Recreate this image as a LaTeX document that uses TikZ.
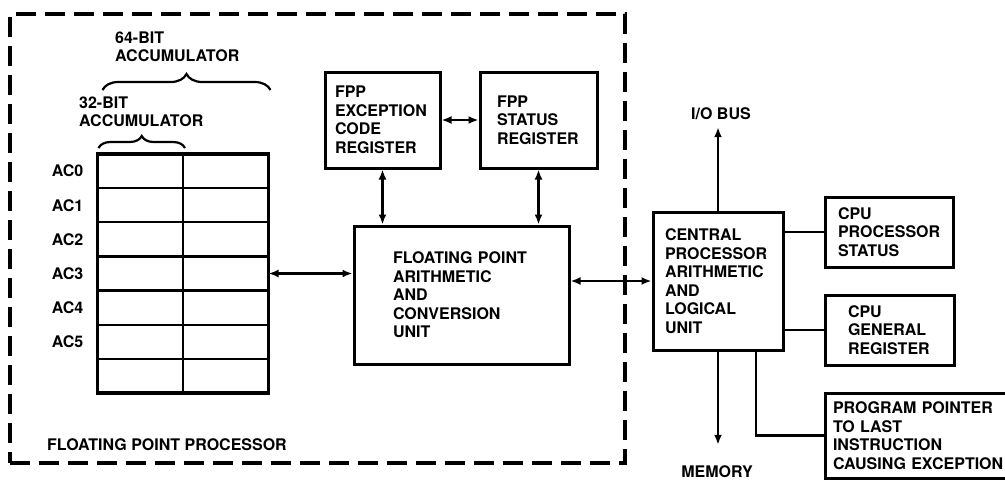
\documentclass[tikz,border=0pt]{standalone}
\usepackage{fontspec}
\setmainfont{TeX Gyre Heros}
\usetikzlibrary{positioning, arrows.meta, decorations.pathreplacing, calc}

\begin{document}
\begin{tikzpicture}[
    x=1pt, y=-1pt,
    every node/.style={font=\fontsize{16pt}{18.5pt}\selectfont\bfseries},
    unit/.style={rectangle, draw=black, line width=3pt, align=left, inner ysep=0pt},
    cell/.style={rectangle, draw=black, line width=2.2pt, minimum width=85.5pt, minimum height=34.14pt, inner sep=0pt, outer sep=0pt},
    lbl/.style={align=left, inner sep=0pt},
    frame/.style={rectangle, draw=black, line width=3.2pt, dash pattern=on 20pt off 9pt},
    link/.style={line width=2.6pt},
    both/.style={link, {Latex[length=10pt,width=8pt]}-{Latex[length=10pt,width=8pt]}},
    oneway/.style={link, -{Latex[length=10pt,width=8pt]}},
    curly/.style={line width=2.2pt, decorate, decoration={brace, amplitude=#1}}
]
    \useasboundingbox (0,0) rectangle (1005,483);

    % Floating point processor boundary
    \node[frame, minimum width=615pt, minimum height=449pt] (fppbox) at (317.5,238.5) {};
    \node[lbl, anchor=west] (fpplabel) at (47,445) {FLOATING POINT PROCESSOR};

    % Accumulators
    \foreach \i in {0,...,6} {
        \node[cell] (lo\i) at (140.25,{171.07+34.14*\i}) {};
        \node[cell, right=0pt of lo\i] (hi\i) {};
    }
    \foreach \i in {0,...,5}
        \node[lbl, left=14pt of lo\i] (ac\i) {AC\i};
    \draw[line width=3.2pt] (lo0.north west) rectangle (hi6.south east);

    \draw[curly=12pt] ($(lo0.north west)+(1,-6)$) -- ($(lo0.north east)+(2,-6)$);
    \node[lbl, anchor=west] (acc32) at (79,112) {32-BIT\\ACCUMULATOR};
    \draw[curly=16pt] ($(lo0.north west)+(5,-64)$) -- ($(hi0.north east)+(2,-64)$);
    \node[lbl, anchor=west] (acc64) at (115,47) {64-BIT\\ACCUMULATOR};

    % FPP registers and arithmetic unit
    \node[unit, minimum width=115pt, minimum height=96pt, text width=95pt, inner xsep=10pt] (fppexc) at (382.5,120) {FPP\\EXCEPTION\\CODE\\REGISTER};
    \node[unit, minimum width=117pt, minimum height=96pt, text width=83pt, inner xsep=17pt] (fppstat) at (538.5,120) {FPP\\STATUS\\REGISTER};
    \node[unit, minimum width=215pt, minimum height=138pt, text width=137pt, inner xsep=39pt] (fpau) at (461.5,295) {FLOATING POINT\\ARITHMETIC\\AND\\CONVERSION\\UNIT};

    \draw[both] (fppexc.east) -- (fppstat.west);
    \draw[both] (fppexc.south) -- (fppexc.south |- fpau.north);
    \draw[both] (fppstat.south) -- (fppstat.south |- fpau.north);
    \draw[both] (hi3.east) -- (fpau.west |- hi3.east);

    % Central processor
    \node[unit, minimum width=130pt, minimum height=138pt, text width=106pt, inner xsep=12pt] (alu) at (718,281) {CENTRAL\\PROCESSOR\\ARITHMETIC\\AND\\LOGICAL\\UNIT};
    \node[unit, minimum width=128pt, minimum height=70pt, text width=102pt, inner xsep=13pt] (cpustat) at (889,232) {CPU\\PROCESSOR\\STATUS};
    \node[unit, minimum width=129pt, minimum height=70pt, text width=83pt, inner xsep=23pt] (genreg) at (889.5,330) {CPU\\GENERAL\\REGISTER};
    \node[unit, minimum width=191pt, minimum height=85pt, text width=175pt, inner xsep=8pt] (progptr) at (920.5,435.5) {PROGRAM POINTER\\TO LAST\\INSTRUCTION\\CAUSING EXCEPTION};

    \node[lbl] (iobus) at (721,114) {I/O BUS};
    \node[lbl] (memory) at (717,472) {MEMORY};

    \draw[both] (fpau.east |- alu.west) -- (alu.west);
    \draw[oneway, shorten >=7pt] (alu.north) -- (alu.north |- iobus.south);
    \draw[oneway, shorten >=21pt] (alu.south) -- (alu.south |- memory.north);
    \draw[link] (alu.east |- cpustat.west) -- (cpustat.west);
    \draw[link] (alu.east |- genreg.west) -- (genreg.west);
    \draw[link] ([xshift=38pt]alu.south) |- (progptr.west);

\end{tikzpicture}
\end{document}
